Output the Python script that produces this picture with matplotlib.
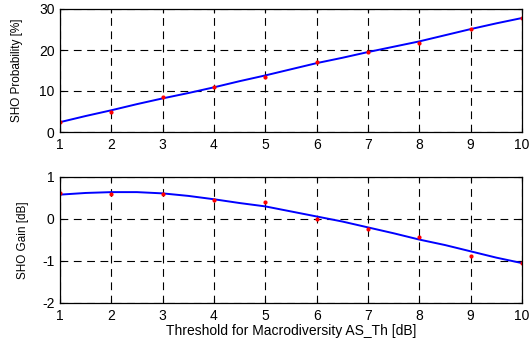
import matplotlib
matplotlib.use('agg')
import matplotlib.pyplot as plt

# threshold values [dB]
thresholds = [1, 2, 3, 4, 5, 6, 7, 8, 9, 10]

# SHO probability [%]: simulated points and fitted curve
prob_points = [2.5, 5.0, 8.6, 10.9, 13.4, 17.0, 19.6, 21.8, 25.2, 27.9]
prob_fit_x = [1, 1.5, 2, 2.5, 3, 3.5, 4, 4.5, 5, 5.5, 6, 6.5, 7, 7.5, 8, 8.5, 9, 9.5, 10]
prob_fit = [2.4, 3.9, 5.3, 6.8, 8.2, 9.5, 10.9, 12.4, 13.8, 15.3, 16.8, 18.1, 19.5,
            20.8, 22.1, 23.6, 25.1, 26.5, 27.8]

# SHO gain [dB]: simulated points and fitted curve
gain_points = [0.62, 0.59, 0.60, 0.45, 0.41, 0.01, -0.24, -0.42, -0.87, -1.04]
gain_fit_x = [1, 1.5, 2, 2.5, 3, 3.5, 4, 4.5, 5, 5.5, 6, 6.5, 7, 7.5, 8, 8.5, 9, 9.5, 10]
gain_fit = [0.58, 0.62, 0.64, 0.64, 0.61, 0.55, 0.47, 0.38, 0.30, 0.18, 0.06, -0.06,
            -0.20, -0.34, -0.49, -0.62, -0.77, -0.92, -1.05]

plt.rcParams['font.family'] = ['Liberation Sans', 'DejaVu Sans']
plt.rcParams['axes.unicode_minus'] = False

W, H = 529, 345
fig = plt.figure(figsize=(W / 100, H / 100), dpi=100)
ax1 = fig.add_axes([60 / W, 1 - 132 / H, 462 / W, 123 / H])
ax2 = fig.add_axes([60 / W, 1 - 303 / H, 462 / W, 126 / H])


def style(ax, ylim, yticks):
    ax.set_xlim(1, 10)
    ax.set_ylim(*ylim)
    ax.set_xticks(thresholds)
    ax.set_yticks(yticks)
    ax.grid(True, color='k', linestyle=(0, (7, 5)), linewidth=0.8)
    ax.tick_params(direction='in', labelsize=10, length=3, width=0.8,
                   top=True, right=True, pad=4)
    for s in ax.spines.values():
        s.set_linewidth(0.9)


ax1.plot(prob_fit_x, prob_fit, color='#0000ff', lw=1.4)
ax1.plot(thresholds, prob_points, 'o', color='#ff0000', ms=3, mec='none')
style(ax1, (0, 30), [0, 10, 20, 30])
ax1.set_ylabel('SHO Probability [%]', fontsize=8.5)
ax1.yaxis.set_label_coords(-37 / 462, 0.5)

ax2.plot(gain_fit_x, gain_fit, color='#0000ff', lw=1.4)
ax2.plot(thresholds, gain_points, 'o', color='#ff0000', ms=3, mec='none')
style(ax2, (-2, 1), [-2, -1, 0, 1])
ax2.set_ylabel('SHO Gain [dB]', fontsize=8.5)
ax2.yaxis.set_label_coords(-31 / 462, 0.5)
ax2.set_xlabel('Threshold for Macrodiversity AS_Th [dB]', fontsize=10, labelpad=1)

fig.savefig('out.png', dpi=100)
